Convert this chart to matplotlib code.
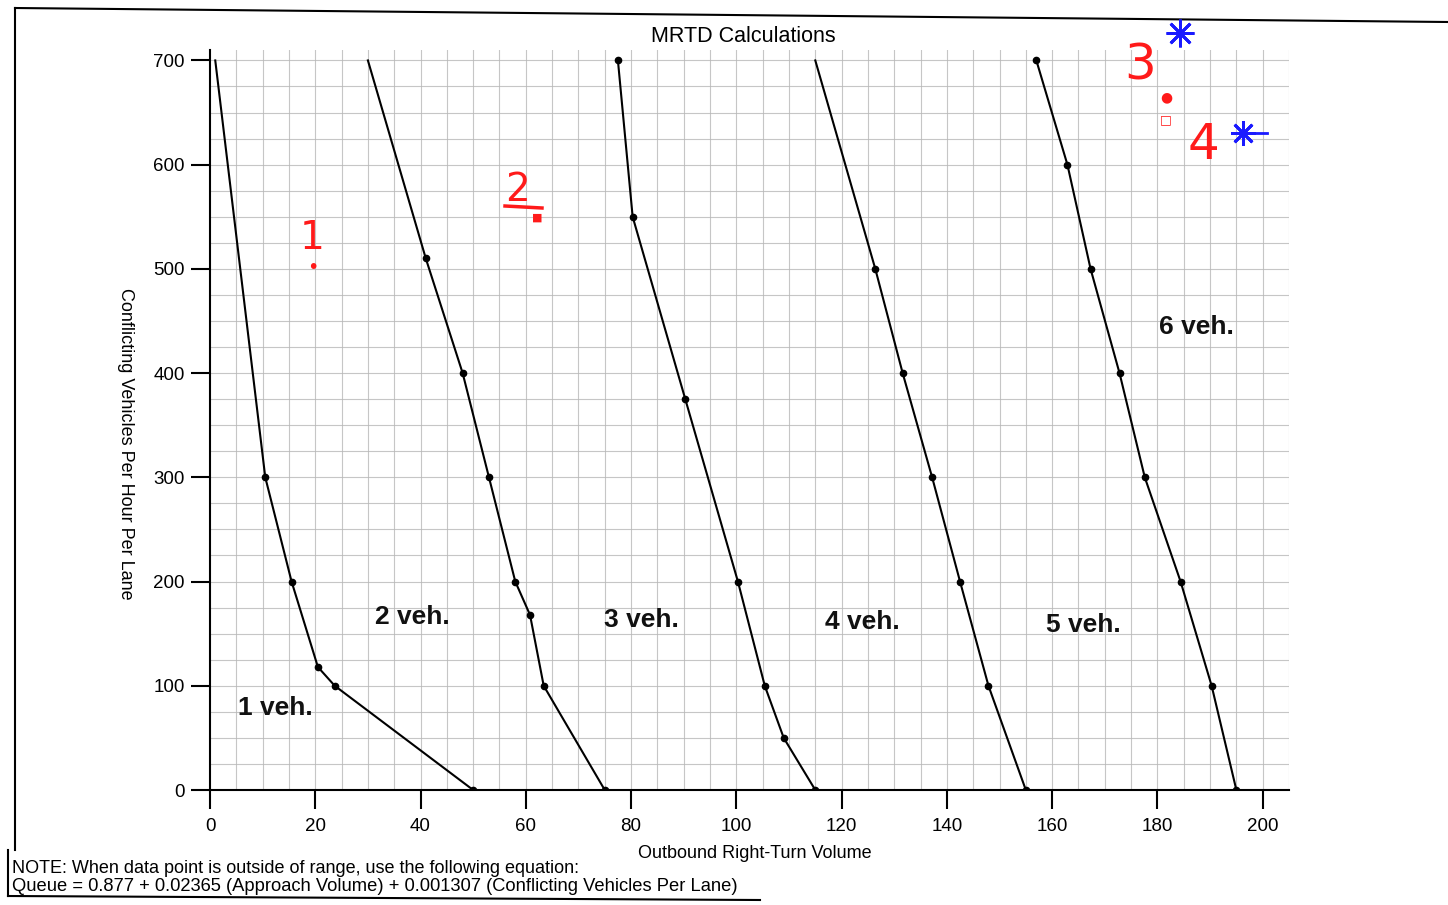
import matplotlib
matplotlib.use("Agg")
import matplotlib.pyplot as plt
from matplotlib.lines import Line2D

plt.rcParams['font.family'] = ['Liberation Sans', 'DejaVu Sans']

# ---- data ----
veh1_x = [1, 10.5, 15.5, 20.5, 23.7, 50]
veh1_y = [700, 300, 200, 118, 100, 0]
veh2_x = [30, 41, 48, 53, 58, 60.8, 63.4, 75]
veh2_y = [700, 510, 400, 300, 200, 168, 100, 0]
veh3_x = [77.5, 80.3, 90.3, 100.3, 105.4, 109, 115]
veh3_y = [700, 550, 375, 200, 100, 50, 0]
veh4_x = [115, 126.4, 131.6, 137.2, 142.5, 147.9, 155]
veh4_y = [700, 500, 400, 300, 200, 100, 0]
veh5_x = [157, 162.9, 167.3, 172.8, 177.6, 184.4, 190.3, 195]
veh5_y = [700, 600, 500, 400, 300, 200, 100, 0]
series = [(veh1_x, veh1_y, False), (veh2_x, veh2_y, False), (veh3_x, veh3_y, True),
          (veh4_x, veh4_y, False), (veh5_x, veh5_y, True)]

region_labels = ["1 veh.", "2 veh.", "3 veh.", "4 veh.", "5 veh.", "6 veh."]
region_x = [12.5, 38.5, 82, 124, 166, 187.5]
region_y = [79, 166, 163, 161, 158, 444]

x_ticks = [0, 20, 40, 60, 80, 100, 120, 140, 160, 180, 200]
y_ticks = [0, 100, 200, 300, 400, 500, 600, 700]

W, H = 1448, 905
fig = plt.figure(figsize=(W / 100, H / 100), dpi=100)
ax = fig.add_axes([210 / W, 1 - 790 / H, (1289 - 210) / W, (790 - 50) / H])
ax.set_xlim(0, 205)
ax.set_ylim(0, 710)

# grid
for gx in range(5, 206, 5):
    ax.axvline(gx, color='#b8b8b8', lw=0.8, alpha=0.8, zorder=0)
for gy in range(25, 707, 25):
    ax.axhline(gy, color='#b8b8b8', lw=0.8, alpha=0.8, zorder=0)

for xs, ys, first_dot in series:
    ax.plot(xs, ys, color='black', lw=1.5, zorder=3)
    start = 0 if first_dot else 1
    ax.plot(xs[start:], ys[start:], 'o', color='black', ms=4.5, zorder=4)

for lab, lx, ly in zip(region_labels, region_x, region_y):
    ax.text(lx, ly, lab, fontsize=19, fontweight='bold', ha='center', va='center', color='#111111')

for s in ['top', 'right']:
    ax.spines[s].set_visible(False)
for s in ['left', 'bottom']:
    ax.spines[s].set_linewidth(1.5)
ax.set_xticks(x_ticks)
ax.set_yticks(y_ticks)
ax.tick_params(axis='both', direction='out', length=14, width=1.5, labelsize=13.5, pad=4)
ax.tick_params(axis='x', pad=6)

ax.set_xlabel("Outbound Right-Turn Volume", fontsize=13)
ax.xaxis.set_label_coords((755 - 210) / (1289 - 210), -(853 - 790) / (790 - 50))
ax.xaxis.label.set_va('center')
ax.set_ylabel("Conflicting Vehicles Per Hour Per Lane", fontsize=13, rotation=270, va='center')
ax.yaxis.set_label_coords(-(210 - 125) / (1289 - 210), (790 - 444) / (790 - 50))
fig.text(743 / W, 1 - 36 / H, "MRTD Calculations", fontsize=15.5, ha='center', va='center')

# note
fig.text(12 / W, 1 - 868 / H, "NOTE: When data point is outside of range, use the following equation:",
         fontsize=13, ha='left', va='center')
fig.text(12 / W, 1 - 886 / H,
         "Queue = 0.877 + 0.02365 (Approach Volume) + 0.001307 (Conflicting Vehicles Per Lane)",
         fontsize=13.2, ha='left', va='center')

# page frame
def fline(x0, y0, x1, y1, lw=1.5, color='black'):
    fig.add_artist(Line2D([x0 / W, x1 / W], [1 - y0 / H, 1 - y1 / H], color=color, lw=lw))
fline(15, 8, 1448, 22)
fline(15, 8, 15, 850)
fline(8, 850, 8, 896)
fline(8, 896, 760, 900)

# handwritten annotations
red = '#ff1a1a'
fig.text(312 / W, 1 - 238 / H, "1", fontsize=28, color=red, ha='center', va='center', family='DejaVu Sans')
fig.text(313 / W, 1 - 267 / H, "•", fontsize=14, color=red, ha='center', va='center', family='DejaVu Sans')
fig.text(518 / W, 1 - 190 / H, "2", fontsize=28, color=red, ha='center', va='center', family='DejaVu Sans')
fline(505, 206, 542, 208, lw=2.5, color=red)
fig.text(537 / W, 1 - 218 / H, "■", fontsize=8, color=red, ha='center', va='center', family='DejaVu Sans')
fig.text(1140 / W, 1 - 66 / H, "3", fontsize=36, color=red, ha='center', va='center', family='DejaVu Sans')
fig.text(1166 / W, 1 - 97 / H, "●", fontsize=10, color=red, ha='center', va='center', family='DejaVu Sans')
fig.text(1166 / W, 1 - 120 / H, "□", fontsize=9, color=red, ha='center', va='center', family='DejaVu Sans')
fig.text(1203 / W, 1 - 145 / H, "4", fontsize=36, color=red, ha='center', va='center', family='DejaVu Sans')
blue = '#1a1aff'
fig.add_artist(Line2D([1180 / W], [1 - 33 / H], marker=(8, 2, 0), ms=20, color=blue, mew=2))
fig.add_artist(Line2D([1243 / W], [1 - 133 / H], marker=(8, 2, 0), ms=18, color=blue, mew=2))
fline(1243, 133, 1267, 133, lw=2, color=blue)

fig.savefig("out.png", dpi=100)
